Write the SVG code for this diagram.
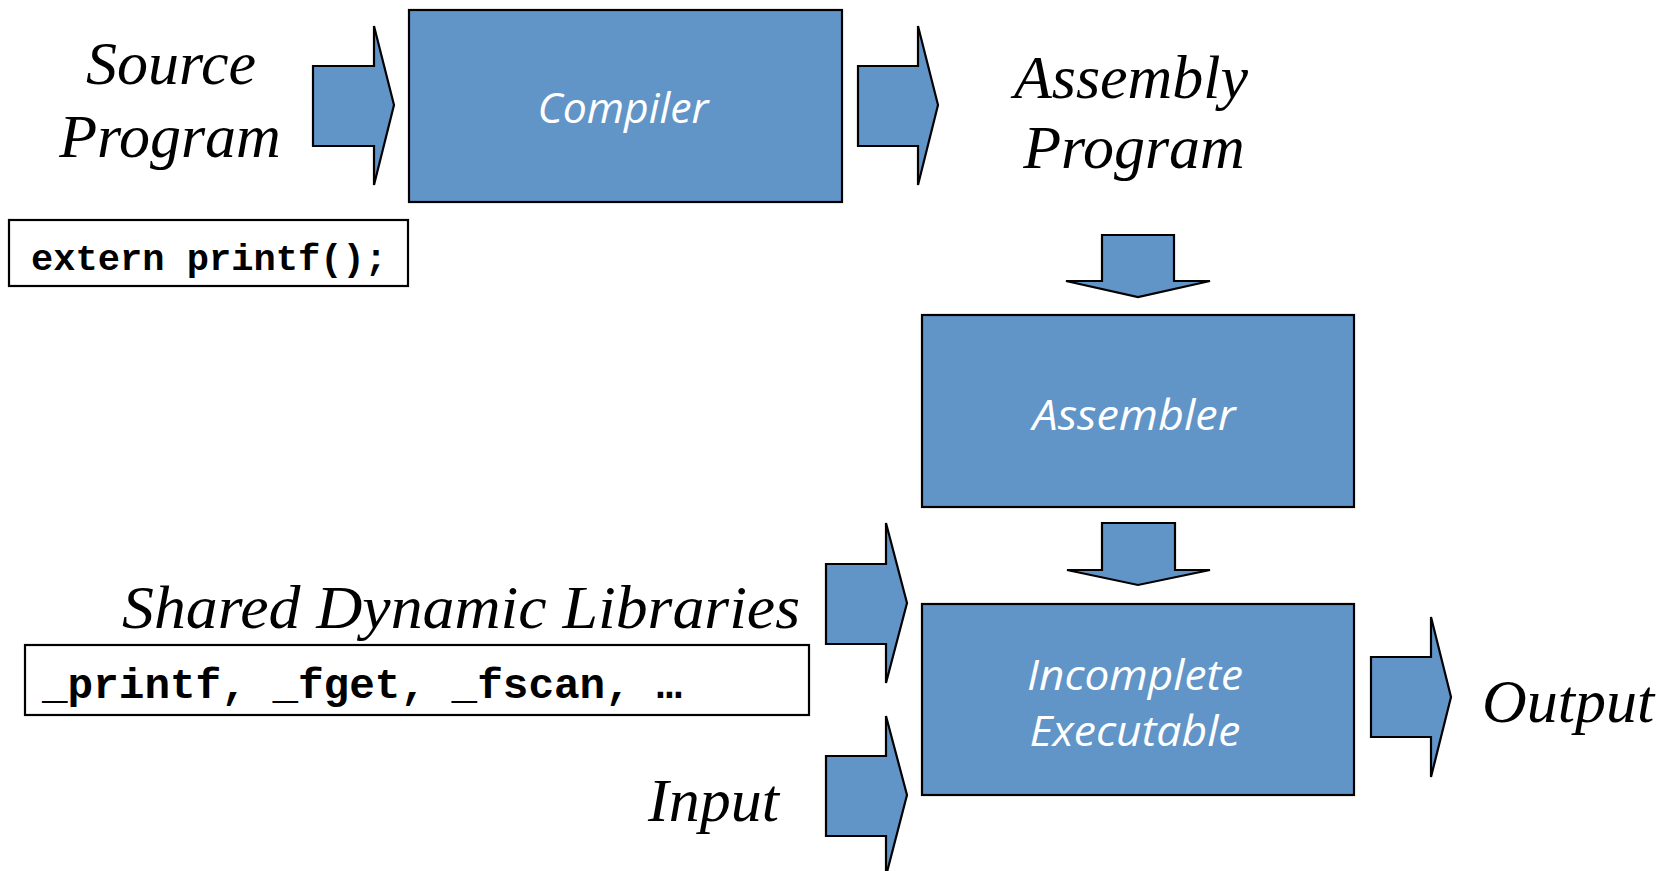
<svg xmlns="http://www.w3.org/2000/svg" width="1670" height="871" viewBox="0 0 1670 871">
<style>
  .blk{fill:#6195c8;stroke:#000;stroke-width:2.2}
  .arr{fill:#6195c8;stroke:#000;stroke-width:2.2;stroke-linejoin:miter}
  .code{fill:#fff;stroke:#000;stroke-width:2.2}
  .lbl{font-family:"Liberation Serif","Times New Roman",serif;font-style:italic;font-size:62px;fill:#000}
  .in{font-family:"Open Sans","Noto Sans",sans-serif;font-style:italic;font-size:42px;fill:#fff;text-anchor:middle}
  .mono{font-family:"Liberation Mono","Courier New",monospace;font-weight:bold;fill:#000}
</style>
<rect width="1670" height="871" fill="#fff"/>
<g id="connectors">
  <polygon class="arr" points="313,66 374,66 374,26 394,105 374,185 374,146 313,146"/>
  <polygon class="arr" points="858,66 918,66 918,26 938,105 918,185 918,146 858,146"/>
  <polygon class="arr" points="1102,235 1174,235 1174,281 1210,281 1138,297 1066,281 1102,281"/>
  <polygon class="arr" points="1102,523 1175,523 1175,570 1210,570 1138,585 1067,570 1102,570"/>
  <polygon class="arr" points="826,564 886,564 886,523 907,603 886,683 886,644 826,644"/>
  <polygon class="arr" points="826,756 886,756 886,716 907,795 886,876 886,836 826,836"/>
  <polygon class="arr" points="1371,657 1431,657 1431,617 1451,697 1431,777 1431,737 1371,737"/>
</g>
<g id="source">
  <text class="lbl" x="171" y="84" text-anchor="middle">Source</text>
  <text class="lbl" x="170" y="157" text-anchor="middle">Program</text>
</g>
<g id="extern">
  <rect class="code" x="9" y="220" width="399" height="66"/>
  <text class="mono" x="31" y="270" font-size="37" textLength="356" lengthAdjust="spacingAndGlyphs">extern printf();</text>
</g>
<g id="compiler">
  <rect class="blk" x="409" y="10" width="433" height="192"/>
  <text class="in" x="623" y="123" textLength="171" lengthAdjust="spacingAndGlyphs">Compiler</text>
</g>
<g id="assembly">
  <text class="lbl" x="1131" y="98" text-anchor="middle">Assembly</text>
  <text class="lbl" x="1134" y="168" text-anchor="middle">Program</text>
</g>
<g id="assembler">
  <rect class="blk" x="922" y="315" width="432" height="192"/>
  <text class="in" x="1134" y="430" textLength="203" lengthAdjust="spacingAndGlyphs">Assembler</text>
</g>
<g id="libraries">
  <text class="lbl" x="122" y="628" textLength="678" lengthAdjust="spacingAndGlyphs">Shared Dynamic Libraries</text>
  <rect class="code" x="25" y="645" width="784" height="70"/>
  <text class="mono" x="42" y="698" font-size="42" textLength="640" lengthAdjust="spacingAndGlyphs">_printf, _fget, _fscan, …</text>
</g>
<g id="input">
  <text class="lbl" x="648" y="821">Input</text>
</g>
<g id="executable">
  <rect class="blk" x="922" y="604" width="432" height="191"/>
  <text class="in" x="1135" y="690" textLength="216" lengthAdjust="spacingAndGlyphs">Incomplete</text>
  <text class="in" x="1135" y="746" textLength="211" lengthAdjust="spacingAndGlyphs">Executable</text>
</g>
<g id="output">
  <text class="lbl" x="1482" y="722">Output</text>
</g>
</svg>
